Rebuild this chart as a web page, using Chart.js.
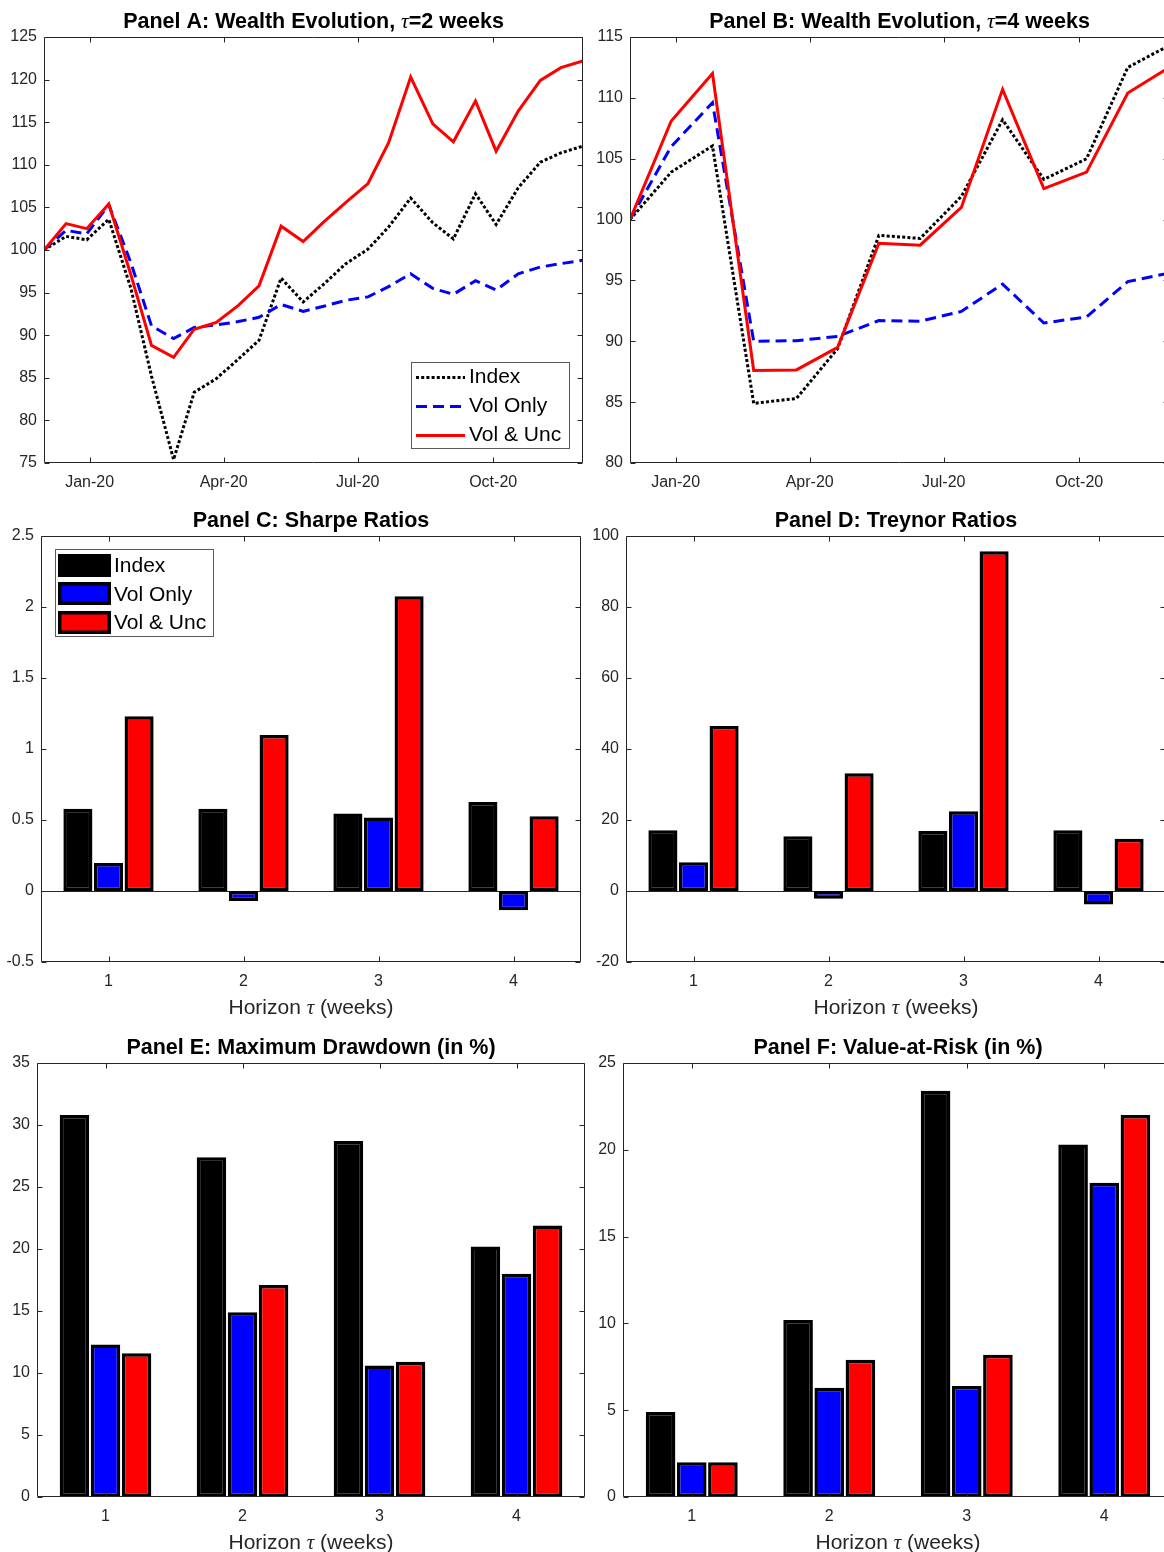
<!DOCTYPE html>
<html>
<head>
<meta charset="utf-8">
<title>Portfolio performance</title>
<script src="https://cdn.jsdelivr.net/npm/chart.js@4.4.1/dist/chart.umd.min.js"></script>
<style>
  html, body { margin: 0; padding: 0; background: #fff; }
  body { position: relative; width: 1164px; height: 1552px; overflow: hidden; }
  canvas { position: absolute; }
</style>
</head>
<body>
<canvas id="panelA"></canvas>
<canvas id="panelB"></canvas>
<canvas id="panelC"></canvas>
<canvas id="panelD"></canvas>
<canvas id="panelE"></canvas>
<canvas id="panelF"></canvas>
<script>
// ---- Wealth paths, rebalancing every 2 weeks ----
const datesTau2 = ['2019-12-01','2019-12-16','2019-12-30','2020-01-14','2020-01-29','2020-02-12',
  '2020-02-27','2020-03-12','2020-03-27','2020-04-11','2020-04-25','2020-05-10','2020-05-25',
  '2020-06-08','2020-06-23','2020-07-08','2020-07-22','2020-08-06','2020-08-21','2020-09-04',
  '2020-09-19','2020-10-03','2020-10-18','2020-11-02','2020-11-16','2020-12-01'];
const indexTau2   = [100, 101.6, 101.2, 103.6, 95.5, 85.2, 75.4, 83.3, 84.9, 87.2, 89.4, 96.7, 93.9,
  96.0, 98.4, 100.1, 102.7, 106.1, 103.2, 101.3, 106.6, 103.0, 107.3, 110.3, 111.4, 112.2];
const volOnlyTau2 = [100, 102.3, 101.9, 105.3, 98.5, 91.1, 89.6, 90.9, 91.2, 91.6, 92.1, 93.6, 92.8,
  93.4, 94.1, 94.5, 95.7, 97.2, 95.5, 94.8, 96.4, 95.3, 97.2, 98.0, 98.4, 98.8];
const volUncTau2  = [100, 103.1, 102.5, 105.4, 97.1, 88.8, 87.4, 90.7, 91.5, 93.5, 95.8, 102.8, 101.0,
  103.3, 105.6, 107.8, 112.6, 120.3, 114.8, 112.7, 117.5, 111.6, 116.3, 119.9, 121.4, 122.2];

// ---- Wealth paths, rebalancing every 4 weeks ----
const datesTau4 = ['2019-12-01','2019-12-29','2020-01-26','2020-02-23','2020-03-23','2020-04-20',
  '2020-05-18','2020-06-15','2020-07-13','2020-08-10','2020-09-07','2020-10-06','2020-11-03','2020-12-01'];
const indexTau4   = [100, 103.9, 106.05, 84.9, 85.3, 89.4, 98.7, 98.45, 101.9, 108.2, 103.3, 105.0, 112.5, 114.3];
const volOnlyTau4 = [100, 106.0, 109.6, 90.0, 90.05, 90.4, 91.7, 91.65, 92.45, 94.7, 91.5, 92.0, 94.9, 95.6];
const volUncTau4  = [100, 108.1, 112.0, 87.6, 87.65, 89.5, 98.05, 97.9, 101.0, 110.7, 102.55, 103.9, 110.4, 112.5];

// date axis range and labelled ticks
const dateRange = ['2019-12-01', '2020-12-01'];
const dateTicks = ['2020-01-01', '2020-04-01', '2020-07-01', '2020-10-01'];
const dateTickLabels = ['Jan-20', 'Apr-20', 'Jul-20', 'Oct-20'];

// ---- Performance measures by horizon (weeks) ----
const horizons = ['1', '2', '3', '4'];
const sharpeIndex    = [0.58, 0.58, 0.545, 0.627];
const sharpeVolOnly  = [0.198, -0.071, 0.517, -0.136];
const sharpeVolUnc   = [1.231, 1.098, 2.076, 0.526];
const treynorIndex   = [17.1, 15.4, 16.9, 17.1];
const treynorVolOnly = [8.1, -2.2, 22.5, -3.8];
const treynorVolUnc  = [46.5, 33.2, 95.7, 14.7];
const mddIndex       = [30.8, 27.4, 28.7, 20.2];
const mddVolOnly     = [12.3, 14.9, 10.6, 18.0];
const mddVolUnc      = [11.6, 17.1, 10.9, 21.9];
const varIndex       = [4.9, 10.2, 23.4, 20.3];
const varVolOnly     = [2.0, 6.3, 6.4, 18.1];
const varVolUnc      = [2.0, 7.9, 8.2, 22.0];

const seriesNames = ['Index', 'Vol Only', 'Vol & Unc'];
const seriesColors = ['#000000', '#0000ff', '#ff0000'];

// ---- styling helpers ----
const SANS = "'Liberation Sans', Arial, Helvetica, sans-serif";
const SERIF = "'Liberation Serif', 'DejaVu Serif', serif";
const AXIS = '#262626';
const X_H = 30;
const TITLE_FONT = 'bold 21.5px ' + SANS;

function titleSegs(before, after) {
  return [
    { text: before, font: TITLE_FONT },
    { text: '\u03C4', font: 'italic 21.5px ' + SERIF },
    { text: after, font: TITLE_FONT }
  ];
}
const horizonLabel = [
  { text: 'Horizon ', font: '21px ' + SANS },
  { text: '\u03C4', font: 'italic 21px ' + SERIF },
  { text: ' (weeks)', font: '21px ' + SANS }
];

function drawSegments(ctx, segs, cx, baseline, color) {
  let total = 0;
  const widths = segs.map(s => { ctx.font = s.font; const w = ctx.measureText(s.text).width; total += w; return w; });
  let x = cx - total / 2;
  ctx.fillStyle = color;
  ctx.textAlign = 'left';
  ctx.textBaseline = 'alphabetic';
  segs.forEach((s, i) => { ctx.font = s.font; ctx.fillText(s.text, x, baseline); x += widths[i]; });
}

// Box, inward ticks, zero baseline, titles and legend
const frame = {
  id: 'frame',
  beforeDatasetsDraw(chart, args, o) {
    if (!o.baseline) return;
    const { ctx, chartArea: a, scales: { y } } = chart;
    const py = Math.round(y.getPixelForValue(0)) + 0.5;
    ctx.save();
    ctx.strokeStyle = AXIS; ctx.lineWidth = 1;
    ctx.beginPath(); ctx.moveTo(a.left, py); ctx.lineTo(a.right, py); ctx.stroke();
    ctx.restore();
  },
  afterDatasetsDraw(chart, args, o) {
    const { ctx, chartArea: a, scales: { x, y } } = chart;
    ctx.save();
    ctx.strokeStyle = AXIS; ctx.lineWidth = 1;
    const L = Math.round(a.left) + 0.5, R = Math.round(a.right) - 0.5;
    const T = Math.round(a.top) + 0.5, B = Math.round(a.bottom) - 0.5;
    const tk = 5;
    ctx.beginPath();
    ctx.rect(L, T, R - L, B - T);
    y.ticks.forEach(t => {
      const p = Math.round(y.getPixelForValue(t.value)) + 0.5;
      ctx.moveTo(L, p); ctx.lineTo(L + tk, p);
      ctx.moveTo(R, p); ctx.lineTo(R - tk, p);
    });
    x.ticks.forEach((t, i) => {
      const p = Math.round(x.getPixelForTick(i)) + 0.5;
      ctx.moveTo(p, B); ctx.lineTo(p, B - tk);
      ctx.moveTo(p, T); ctx.lineTo(p, T + tk);
    });
    ctx.stroke();

    const lg = o.legend;
    if (lg) {
      ctx.fillStyle = '#ffffff';
      ctx.fillRect(lg.left, lg.top, lg.width, lg.height);
      ctx.strokeStyle = '#5a5a5a'; ctx.lineWidth = 1;
      ctx.strokeRect(lg.left + 0.5, lg.top + 0.5, lg.width - 1, lg.height - 1);
      chart.data.datasets.forEach((ds, i) => {
        const cy = lg.top + lg.firstRow + i * lg.rowStep;
        if (lg.kind === 'line') {
          ctx.save();
          ctx.strokeStyle = ds.borderColor; ctx.lineWidth = ds.borderWidth;
          ctx.setLineDash(ds.borderDash || []);
          ctx.lineCap = 'butt';
          ctx.beginPath();
          ctx.moveTo(lg.left + lg.x0, Math.round(cy) + 0.5);
          ctx.lineTo(lg.left + lg.x1, Math.round(cy) + 0.5);
          ctx.stroke();
          ctx.restore();
        } else {
          const px = lg.left + lg.x0, pw = lg.x1 - lg.x0, ph = lg.patchH;
          const py = Math.round(cy - ph / 2);
          ctx.fillStyle = ds.backgroundColor;
          ctx.fillRect(px, py, pw, ph);
          ctx.strokeStyle = '#000'; ctx.lineWidth = 3.5;
          ctx.strokeRect(px + 1.75, py + 1.75, pw - 3.5, ph - 3.5);
        }
        ctx.fillStyle = '#000';
        ctx.font = '21px ' + SANS;
        ctx.textAlign = 'left'; ctx.textBaseline = 'middle';
        ctx.fillText(ds.label, lg.left + lg.textX, cy + 1);
      });
    }
    ctx.restore();
  },
  afterDraw(chart, args, o) {
    const { ctx, chartArea: a } = chart;
    ctx.save();
    const cx = (a.left + a.right) / 2;
    if (o.title) drawSegments(ctx, o.title, cx, a.top - 9, '#000');
    if (o.xTitle) drawSegments(ctx, o.xTitle, cx, a.bottom + 52, AXIS);
    ctx.restore();
  }
};
Chart.register(frame);

function place(id, cv) {
  const el = document.getElementById(id);
  el.width = cv.w; el.height = cv.h;
  el.style.left = cv.x + 'px'; el.style.top = cv.y + 'px';
  el.style.width = cv.w + 'px'; el.style.height = cv.h + 'px';
  return el;
}
// the y axis takes all the room left of the plot box, so labels are never clipped
function paddingFor(cv, area) {
  return {
    left: 0,
    top: area.t - cv.y,
    right: cv.x + cv.w - area.r,
    bottom: cv.y + cv.h - area.b - X_H
  };
}
const tickFont = { family: SANS, size: 16 };
function yScale(cv, area, min, max, step) {
  const w = area.l - cv.x;
  return {
    min, max,
    ticks: {
      stepSize: step, font: tickFont, color: AXIS, padding: 7,
      callback: v => String(Number(v.toFixed(3)))
    },
    grid: { display: false, drawTicks: false },
    border: { display: false },
    afterFit: s => { s.width = w; }
  };
}

function wealthChart(id, cv, area, dates, idx, vol, unc, yRange, title, legend) {
  const pts = vals => vals.map((v, i) => ({ x: Date.parse(dates[i]), y: v }));
  const lineStyles = [
    { borderDash: [3, 2.2], order: 3 },
    { borderDash: [11, 6], order: 2 },
    { borderDash: [], order: 1 }
  ];
  const series = [idx, vol, unc];
  return new Chart(place(id, cv), {
    type: 'line',
    data: {
      datasets: series.map((vals, i) => ({
        label: seriesNames[i],
        data: pts(vals),
        borderColor: seriesColors[i],
        borderWidth: 3,
        borderDash: lineStyles[i].borderDash,
        order: lineStyles[i].order,
        pointRadius: 0,
        tension: 0,
        fill: false
      }))
    },
    options: {
      responsive: false, animation: false, devicePixelRatio: 1, events: [],
      layout: { padding: paddingFor(cv, area) },
      scales: {
        x: {
          type: 'linear',
          min: Date.parse(dateRange[0]), max: Date.parse(dateRange[1]),
          afterBuildTicks: s => { s.ticks = dateTicks.map(d => ({ value: Date.parse(d) })); },
          ticks: {
            font: tickFont, color: AXIS, padding: 10, maxRotation: 0, autoSkip: false,
            callback: v => dateTickLabels[dateTicks.findIndex(d => Date.parse(d) === v)]
          },
          grid: { display: false, drawTicks: false },
          border: { display: false },
          afterFit: s => { s.height = X_H; }
        },
        y: yScale(cv, area, yRange[0], yRange[1], yRange[2])
      },
      plugins: {
        legend: { display: false }, tooltip: { enabled: false },
        frame: { title, legend }
      }
    }
  });
}

function barChart(id, cv, area, idx, vol, unc, yRange, title, legend, baseline) {
  const series = [idx, vol, unc];
  return new Chart(place(id, cv), {
    type: 'bar',
    data: {
      labels: horizons,
      datasets: series.map((vals, i) => ({
        label: seriesNames[i],
        data: vals,
        backgroundColor: seriesColors[i],
        borderColor: '#000000',
        borderWidth: 3.5,
        borderSkipped: false,
        categoryPercentage: 0.68,
        barPercentage: 0.95
      }))
    },
    options: {
      responsive: false, animation: false, devicePixelRatio: 1, events: [],
      layout: { padding: paddingFor(cv, area) },
      scales: {
        x: {
          type: 'category', offset: true,
          ticks: { font: tickFont, color: AXIS, padding: 10, maxRotation: 0 },
          grid: { display: false, drawTicks: false, offset: true },
          border: { display: false },
          afterFit: s => { s.height = X_H; }
        },
        y: yScale(cv, area, yRange[0], yRange[1], yRange[2])
      },
      plugins: {
        legend: { display: false }, tooltip: { enabled: false },
        frame: { title, xTitle: horizonLabel, legend, baseline }
      }
    }
  });
}

wealthChart('panelA', { x: 0, y: 0, w: 590, h: 500 }, { l: 44, t: 37, r: 583, b: 463 },
  datesTau2, indexTau2, volOnlyTau2, volUncTau2, [75, 125, 5],
  titleSegs('Panel A: Wealth Evolution, ', '=2 weeks'),
  { kind: 'line', left: 411, top: 362, width: 159, height: 87, firstRow: 14.5, rowStep: 29, x0: 5, x1: 54, textX: 58 });
wealthChart('panelB', { x: 580, y: 0, w: 610, h: 500 }, { l: 630, t: 37, r: 1169, b: 463 },
  datesTau4, indexTau4, volOnlyTau4, volUncTau4, [80, 115, 5],
  titleSegs('Panel B: Wealth Evolution, ', '=4 weeks'), null);

barChart('panelC', { x: 0, y: 500, w: 590, h: 530 }, { l: 41, t: 536, r: 581, b: 962 },
  sharpeIndex, sharpeVolOnly, sharpeVolUnc, [-0.5, 2.5, 0.5],
  [{ text: 'Panel C: Sharpe Ratios', font: TITLE_FONT }],
  { kind: 'bar', left: 55, top: 49, width: 159, height: 88, firstRow: 16.5, rowStep: 28.3, x0: 3, x1: 56, patchH: 23, textX: 59 },
  true);
barChart('panelD', { x: 580, y: 500, w: 610, h: 530 }, { l: 626, t: 536, r: 1166, b: 962 },
  treynorIndex, treynorVolOnly, treynorVolUnc, [-20, 100, 20],
  [{ text: 'Panel D: Treynor Ratios', font: TITLE_FONT }], null, true);
barChart('panelE', { x: 0, y: 1030, w: 590, h: 530 }, { l: 37, t: 1063, r: 585, b: 1497 },
  mddIndex, mddVolOnly, mddVolUnc, [0, 35, 5],
  [{ text: 'Panel E: Maximum Drawdown (in %)', font: TITLE_FONT }], null, false);
barChart('panelF', { x: 580, y: 1030, w: 610, h: 530 }, { l: 623, t: 1063, r: 1173, b: 1497 },
  varIndex, varVolOnly, varVolUnc, [0, 25, 5],
  [{ text: 'Panel F: Value-at-Risk (in %)', font: TITLE_FONT }], null, false);
</script>
</body>
</html>
